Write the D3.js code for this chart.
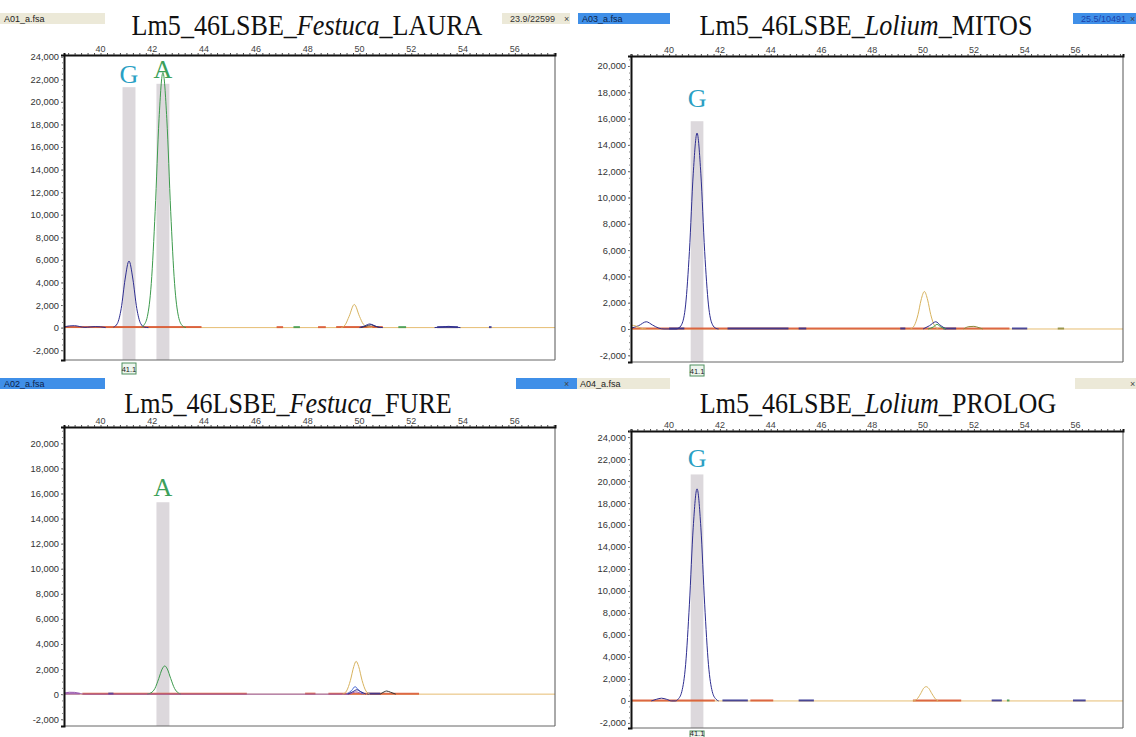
<!DOCTYPE html>
<html lang="en">
<head>
<meta charset="UTF-8">
<title>Lm5_46LSBE electropherograms</title>
<script src="https://d3js.org/d3.v7.min.js"></script>
<style>
  body { margin: 0; background: #fff; }
  svg { display: block; }
</style>
</head>
<body>
<svg id="chart" width="1136" height="737"></svg>
<script>
// size (bp) labels along the top of every plot
var sizeLabels = [40, 42, 44, 46, 48, 50, 52, 54, 56];

// traces: [size in bp, RFU]
// --- A01 LAURA (Festuca)
var lauraNavy = [[40.5,40],[40.65,360],[40.8,1700],[40.95,4300],[41.1,5900],[41.25,4300],[41.4,1700],[41.55,360],[41.7,40],[41.85,0]];
var lauraNavyLeft = [[38.6,60],[38.8,150],[39.0,170],[39.2,90],[39.4,20],[39.6,60],[39.8,90],[40.0,70],[40.2,0]];
var lauraGreen = [[41.6,0],[41.66,170],[41.81,990],[41.96,3900],[42.11,10300],[42.26,18500],[42.41,22600],[42.56,18500],[42.71,10300],[42.86,3900],[43.01,990],[43.16,170],[43.3,0]];
var lauraOrange = [[49.3,0],[49.45,250],[49.6,1000],[49.8,2050],[50.0,1000],[50.15,300],[50.35,40],[50.5,0]];
var lauraNavySmall = [[50.0,0],[50.2,150],[50.4,320],[50.55,200],[50.75,30],[50.9,0]];
var lauraBlack = [[50.05,0],[50.25,120],[50.45,250],[50.6,120],[50.8,0]];
var lauraNavyRight = [[52.9,0],[53.2,60],[53.45,110],[53.7,40],[53.9,0]];
var lauraNoise = [[38.6,43.9,"red"],[46.8,47.05,"red"],[47.45,47.7,"green"],[48.4,48.7,"red"],[49.1,50.9,"red"],[51.5,51.8,"green"],[53.0,53.8,"navy"],[55.0,55.1,"navy"]];
var lauraBands = [[41.1,21300],[42.41,21600]];
var lauraCalls = [["G",41.1,21700,"G"],["A",42.41,22100,"A"]];

// --- A03 MITOS (Lolium)
var mitosNavy = [[38.5,60],[38.8,250],[39.1,550],[39.35,300],[39.6,60],[39.8,0],[40.3,0],[40.35,45],[40.5,360],[40.65,1830],[40.8,5900],[40.95,11800],[41.1,14900],[41.25,11800],[41.4,5900],[41.55,1830],[41.7,360],[41.85,45],[41.95,0]];
var mitosOrange = [[38.5,300],[38.7,220],[38.9,60],[39.1,0]];
var mitosOrangePeak = [[49.5,0],[49.65,250],[49.8,1100],[49.92,2200],[50.05,2850],[50.18,2200],[50.3,1100],[50.45,250],[50.6,0]];
var mitosNavySmall = [[50.0,0],[50.25,250],[50.5,550],[50.7,250],[50.9,0]];
var mitosGreen = [[50.2,0],[50.4,150],[50.55,350],[50.7,150],[50.9,0]];
var mitosOlive = [[51.6,0],[51.8,180],[52.0,200],[52.2,100],[52.35,0]];
var mitosNoise = [[38.5,53.4,"red"],[40.0,40.6,"navy"],[42.3,44.7,"navy"],[45.1,45.4,"navy"],[49.1,49.3,"navy"],[50.8,51.3,"navy"],[53.5,54.1,"navy"],[55.3,55.55,"olive"]];
var mitosBands = [[41.1,15800]];
var mitosCalls = [["G",41.1,16900,"G"]];

// --- A02 FURE (Festuca)
var fureGreen = [[41.8,0],[41.95,100],[42.1,450],[42.25,1250],[42.38,2000],[42.48,2250],[42.58,2000],[42.71,1250],[42.86,450],[43.0,100],[43.1,0]];
var fureOrange = [[49.35,0],[49.5,250],[49.65,1100],[49.78,2200],[49.87,2620],[49.97,2200],[50.1,1100],[50.25,250],[50.4,0]];
var fureRoyal = [[49.5,0],[49.7,300],[49.83,600],[49.95,350],[50.15,0]];
var fureNavy = [[49.55,0],[49.75,200],[49.9,350],[50.05,200],[50.25,0]];
var furePurple = [[38.6,80],[38.8,150],[39.0,140],[39.2,40],[39.4,0],[49.6,0],[49.85,180],[50.1,0]];
var fureBlack = [[50.8,0],[50.95,180],[51.05,250],[51.2,150],[51.4,0]];
var fureNoise = [[38.6,39.2,"purple"],[39.3,45.65,"red"],[40.3,40.5,"navy"],[47.9,48.3,"red"],[48.8,52.3,"red"],[50.3,50.8,"navy"]];
var fureBands = [[42.41,15300]];
var fureCalls = [["A",42.41,15800,"A"]];

// --- A04 PROLOG (Lolium)
var prologNavy = [[39.3,0],[39.5,150],[39.7,250],[39.9,150],[40.1,0],[40.25,0],[40.35,150],[40.5,850],[40.65,3300],[40.8,8800],[40.95,15800],[41.1,19300],[41.25,15800],[41.4,8800],[41.55,3300],[41.7,850],[41.85,150],[41.95,0]];
var prologOrange = [[49.6,0],[49.75,150],[49.9,650],[50.02,1150],[50.12,1300],[50.22,1150],[50.35,650],[50.5,150],[50.6,0]];
var prologNoise = [[38.5,41.8,"red"],[42.1,43.1,"navy"],[43.2,44.1,"red"],[45.1,45.7,"navy"],[49.6,51.5,"red"],[52.7,53.1,"navy"],[53.3,53.4,"green"],[55.9,56.4,"navy"]];
var prologBands = [[41.1,20600]];
var prologCalls = [["G",41.1,21300,"G"]];

var colors = {
  navy: "#2e2e90", green: "#3c9a4c", orange: "#d8b35e", red: "#d9542f",
  black: "#333333", royal: "#4a6ad8", purple: "#9a5ab0", olive: "#8c8a3a",
  base: "#e6bd72", G: "#2a9fc4", A: "#3ca05a"
};

var panels = [
  {file: "A01_a.fsa", info: "23.9/22599", genus: "Festuca", name: "LAURA", selected: false,
   box: [64, 55, 555, 360], xDom: [38.59, 57.55], yDom: [-2870, 24150], yMax: 24000,
   bar: [0, 13, 570], hole: [105, 502], titleX: 307, titleY: 35, marker: 41.1,
   traces: [[lauraNavyLeft,"navy"],[lauraNavy,"navy"],[lauraGreen,"green"],[lauraOrange,"orange"],[lauraBlack,"black"],[lauraNavySmall,"navy"],[lauraNavyRight,"navy"]],
   noise: lauraNoise, bands: lauraBands, calls: lauraCalls},
  {file: "A03_a.fsa", info: "25.5/10491", genus: "Lolium", name: "MITOS", selected: true,
   box: [631, 56, 1123, 362], xDom: [38.50, 57.87], yDom: [-2510, 20760], yMax: 20000,
   bar: [578, 13, 1136], hole: [670, 1073], titleX: 866, titleY: 35, marker: 41.1,
   traces: [[mitosNavy,"navy"],[mitosOrange,"orange"],[mitosOrangePeak,"orange"],[mitosNavySmall,"navy"],[mitosGreen,"green"],[mitosOlive,"olive"]],
   noise: mitosNoise, bands: mitosBands, calls: mitosCalls},
  {file: "A02_a.fsa", info: "", genus: "Festuca", name: "FURE", selected: true,
   box: [64, 427, 555, 726], xDom: [38.59, 57.55], yDom: [-2540, 21300], yMax: 20000,
   bar: [0, 378, 570], hole: [105, 516], titleX: 288, titleY: 413, marker: null,
   traces: [[fureGreen,"green"],[furePurple,"purple"],[fureOrange,"orange"],[fureRoyal,"royal"],[fureNavy,"navy"],[fureBlack,"black"]],
   noise: fureNoise, bands: fureBands, calls: fureCalls},
  {file: "A04_a.fsa", info: "", genus: "Lolium", name: "PROLOG", selected: false,
   box: [631, 431, 1123, 728], xDom: [38.50, 57.87], yDom: [-2460, 24550], yMax: 24000,
   bar: [576, 378, 1136], hole: [670, 1075], titleX: 878, titleY: 413, marker: 41.1,
   traces: [[prologNavy,"navy"],[prologOrange,"orange"]],
   noise: prologNoise, bands: prologBands, calls: prologCalls}
];

var svg = d3.select("#chart");
var fmt = function(d) { return d3.format(",")(d).replace("\u2212", "-"); };
var sans = "'Liberation Sans', Arial, sans-serif";
var serif = "'Liberation Serif', 'Times New Roman', serif";

panels.forEach(function(p, i) {
  var g = svg.append("g");
  var L = p.box[0], T = p.box[1], R = p.box[2], B = p.box[3];
  var x = d3.scaleLinear().domain(p.xDom).range([L, R]);
  var y = d3.scaleLinear().domain(p.yDom).range([B, T]);

  // header bar
  g.append("rect").attr("x", p.bar[0]).attr("y", p.bar[1]).attr("width", p.bar[2] - p.bar[0]).attr("height", 11)
    .attr("fill", p.selected ? "#3f8fe8" : "#ece9d8");
  g.append("rect").attr("x", p.hole[0]).attr("y", p.bar[1]).attr("width", p.hole[1] - p.hole[0]).attr("height", 14)
    .attr("fill", "#fff");
  g.append("text").attr("x", p.bar[0] + 4).attr("y", p.bar[1] + 8.5)
    .attr("font-family", sans).attr("font-size", 9)
    .attr("fill", p.selected ? "#0d1f4a" : "#222").text(p.file);
  if (p.info) {
    g.append("text").attr("x", p.hole[1] + 53).attr("y", p.bar[1] + 8.5).attr("text-anchor", "end")
      .attr("font-family", sans).attr("font-size", 9)
      .attr("fill", p.selected ? "#1c3fa8" : "#333").text(p.info);
  }
  g.append("text").attr("x", p.bar[2] - 6).attr("y", p.bar[1] + 8.5)
    .attr("font-family", sans).attr("font-size", 9).attr("fill", "#444").text("\u00d7");

  // title (slightly condensed serif, like the pasted label)
  var t = g.append("text")
    .attr("transform", "translate(" + p.titleX + "," + p.titleY + ") scale(0.9,1)")
    .attr("text-anchor", "middle")
    .attr("font-family", serif).attr("font-size", 29).attr("fill", "#111");
  t.append("tspan").text("Lm5_46LSBE_");
  t.append("tspan").attr("font-style", "italic").text(p.genus);
  t.append("tspan").text("_" + p.name);

  // clip
  var cid = "clip" + i;
  g.append("clipPath").attr("id", cid).append("rect")
    .attr("x", L).attr("y", T).attr("width", R - L).attr("height", B - T);
  var plot = g.append("g").attr("clip-path", "url(#" + cid + ")");

  // allele bins (grey bands)
  plot.selectAll(".band").data(p.bands).join("rect")
    .attr("x", d => x(d[0] - 0.25)).attr("width", d => x(d[0] + 0.25) - x(d[0] - 0.25))
    .attr("y", d => y(d[1])).attr("height", d => B - y(d[1]))
    .attr("fill", "#dcd8dc");

  // baseline
  plot.append("line").attr("x1", L).attr("x2", R).attr("y1", y(0)).attr("y2", y(0))
    .attr("stroke", colors.base).attr("stroke-width", 1);
  plot.selectAll(".noise").data(p.noise).join("line")
    .attr("x1", d => x(d[0])).attr("x2", d => x(d[1]))
    .attr("y1", y(0) - 0.5).attr("y2", y(0) - 0.5)
    .attr("stroke", d => colors[d[2]]).attr("stroke-width", 2).attr("opacity", 0.85);

  // traces
  var line = d3.line().x(d => x(d[0])).y(d => y(d[1])).curve(d3.curveMonotoneX);
  plot.selectAll(".trace").data(p.traces).join("path")
    .attr("d", d => line(d[0]))
    .attr("fill", "none").attr("stroke", d => colors[d[1]]).attr("stroke-width", 1);

  // frame
  g.append("line").attr("x1", R).attr("x2", R).attr("y1", T).attr("y2", B).attr("stroke", "#555");
  g.append("line").attr("x1", L).attr("x2", R).attr("y1", B).attr("y2", B).attr("stroke", "#666");

  // y axis
  var yTicks = d3.range(-2000, p.yMax + 1, 2000);
  var ya = g.append("g").attr("transform", "translate(" + L + ",0)")
    .call(d3.axisLeft(y).tickValues(yTicks).tickSize(3).tickFormat(fmt));
  ya.select(".domain").attr("stroke", "#111").attr("stroke-width", 2);
  ya.selectAll("text").attr("font-family", sans).attr("font-size", 9.3).attr("fill", "#333").attr("x", -5);
  ya.selectAll(".tick line").attr("stroke", "#666");
  g.append("g").attr("transform", "translate(" + L + ",0)")
    .call(d3.axisLeft(y).tickValues(d3.range(-2000, p.yDom[1], 500)).tickSize(2).tickFormat(""))
    .call(a => a.select(".domain").remove())
    .selectAll("line").attr("stroke", "#888");

  // top axis
  var xa = g.append("g").attr("transform", "translate(0," + T + ")")
    .call(d3.axisTop(x).tickValues(d3.range(Math.ceil(p.xDom[0] * 4) / 4, p.xDom[1], 0.25)).tickSize(2).tickFormat(""));
  xa.select(".domain").attr("stroke", "#111").attr("stroke-width", 2);
  xa.selectAll(".tick line").attr("stroke", "#444");
  g.selectAll(".sz").data(sizeLabels).join("text")
    .attr("x", d => x(d)).attr("y", T - 3).attr("text-anchor", "middle")
    .attr("font-family", sans).attr("font-size", 9).attr("fill", "#444")
    .text(d => d);

  // allele letters
  g.selectAll(".call").data(p.calls).join("text")
    .attr("x", d => x(d[1])).attr("y", d => y(d[2])).attr("text-anchor", "middle")
    .attr("font-family", serif).attr("font-size", 26).attr("fill", d => colors[d[3]])
    .text(d => d[0]);

  // size marker box
  if (p.marker) {
    var mx = x(p.marker);
    g.append("rect").attr("x", mx - 7).attr("y", B + 3).attr("width", 14).attr("height", 11)
      .attr("fill", "#eef6ee").attr("stroke", "#4f8f5f").attr("stroke-width", 1);
    g.append("text").attr("x", mx).attr("y", Math.min(B + 11.5, 736)).attr("text-anchor", "middle")
      .attr("font-family", sans).attr("font-size", 7.5).attr("fill", "#222").text(p.marker);
  }
});

// blue close tab between bottom panels
svg.append("rect").attr("x", 570).attr("y", 378).attr("width", 7).attr("height", 11).attr("fill", "#3f8fe8");
</script>
</body>
</html>
